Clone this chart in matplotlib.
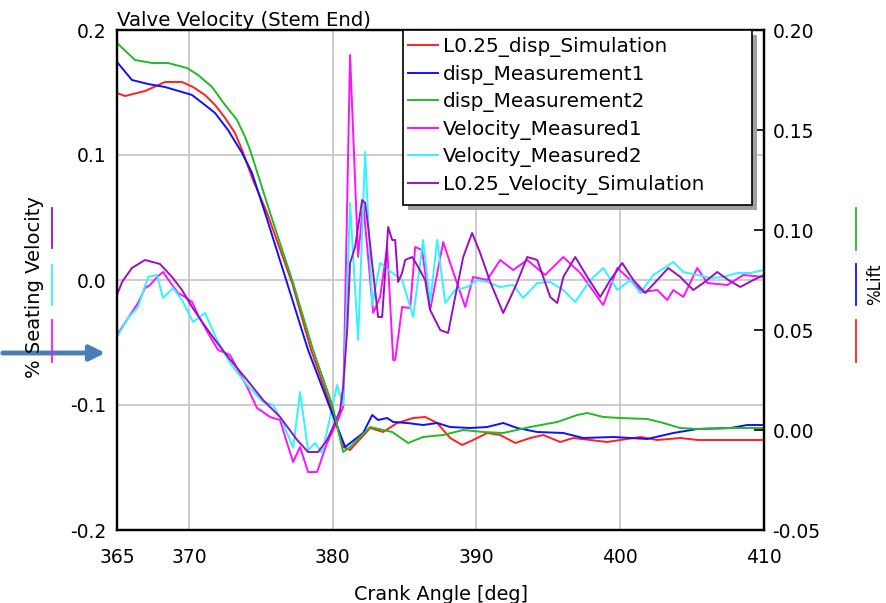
import matplotlib.pyplot as plt
from matplotlib.lines import Line2D
from matplotlib.patches import Rectangle

plt.rcParams['font.family'] = ['DejaVu Sans']

# ---- lift curves (right axis, %Lift) ----
disp_sim_x = [365, 365.56, 366.95, 368.34, 369.52, 370.29, 371.12, 371.82, 372.52, 373.21, 373.70,
              374.46, 375.44, 377.18, 378.50, 379.82, 380.73, 381.21, 382.61, 383.51, 384.49, 385.60,
              386.43, 387.27, 388.17, 389.01, 389.77, 390.75, 391.65, 392.70, 393.74, 394.65, 395.83,
              396.73, 397.92, 399.10, 400.00, 401.40, 402.58, 404.18, 405.36, 407.66, 410]
disp_sim = [0.1685, 0.167, 0.1695, 0.174, 0.174, 0.1715, 0.1675, 0.1625, 0.156, 0.1485, 0.14,
            0.125, 0.1085, 0.0735, 0.04, 0.013, -0.0085, -0.01, 0.001, -0.001, 0.0035, 0.006,
            0.0065, 0.0035, -0.004, -0.0075, -0.005, -0.0015, -0.0025, -0.0065, -0.004, -0.0025, -0.006,
            -0.004, -0.005, -0.006, -0.005, -0.0035, -0.005, -0.004, -0.005, -0.005, -0.005]

disp_m1_x = [365, 366.04, 367.16, 368.34, 369.52, 370.22, 371.12, 371.82, 372.72, 373.70, 374.39,
             375.30, 376.83, 378.29, 379.82, 380.87, 382.12, 382.75, 383.16, 383.79, 384.21, 385.18,
             386.29, 387.27, 388.17, 389.57, 390.75, 391.86, 392.84, 394.23, 396.04, 397.43, 399.52,
             401.88, 403.69, 405.36, 407.66, 408.84, 410]
disp_m1 = [0.184, 0.175, 0.173, 0.1715, 0.169, 0.1675, 0.1625, 0.1585, 0.15, 0.1385, 0.1285,
           0.1085, 0.0735, 0.04, 0.011, -0.0085, -0.0015, 0.0075, 0.005, 0.006, 0.004, 0.0035,
           0.0025, 0.0035, 0.0015, 0.001, 0.0015, 0.0035, 0.001, -0.001, -0.0015, -0.004, -0.0035,
           -0.0045, -0.0015, 0.0005, 0.001, 0.0025, 0.0025]

disp_m2_x = [365, 366.25, 367.44, 368.55, 369.87, 370.64, 371.61, 372.52, 373.35, 373.91, 374.26,
             375.65, 377.25, 378.64, 380.0, 380.73, 381.21, 382.61, 383.51, 384.14, 385.25, 386.29,
             387.69, 389.08, 390.47, 391.86, 393.74, 395.62, 397.01, 397.71, 398.82, 400.00, 401.88,
             403.0, 404.18, 405.36, 407.66, 410]
disp_m2 = [0.1935, 0.185, 0.1835, 0.1835, 0.181, 0.1775, 0.1715, 0.1625, 0.155, 0.1465, 0.14,
           0.1085, 0.0735, 0.04, 0.012, -0.011, -0.0085, 0.0015, 0.0, -0.001, -0.0065, -0.0035,
           -0.0025, 0.0, -0.001, -0.0015, 0.0015, 0.004, 0.0075, 0.0085, 0.0065, 0.006, 0.0055,
           0.0035, 0.001, 0.0005, 0.001, 0.001]

# ---- velocity curves (left axis, % Seating Velocity) ----
vel_m1_x = [365, 365.77, 366.46, 366.95, 367.30, 367.78, 368.20, 368.69, 369.24, 369.73, 370.22,
            370.64, 371.33, 372.03, 372.86, 374.05, 374.74, 375.65, 376.34, 376.83, 377.25, 377.73,
            378.29, 378.92, 379.61, 380.31, 380.73, 381.21, 381.77, 382.12, 382.82, 383.30, 383.79,
            384.21, 384.35, 384.83, 385.39, 385.74, 386.22, 386.78, 387.69, 388.17, 389.22, 389.77,
            390.75, 391.65, 392.56, 393.53, 394.78, 396.04, 397.22, 398.82, 399.80, 400.70, 401.53,
            402.58, 403.27, 403.69, 404.39, 405.36, 406.06, 407.45, 408.56, 410]
vel_m1 = [-0.044, -0.0304, -0.0184, -0.0064, -0.004, 0.0024, 0.0064, -0.0016, -0.0104, -0.0136, -0.0176,
          -0.028, -0.0424, -0.056, -0.06, -0.0856, -0.1024, -0.1096, -0.112, -0.1304, -0.1456, -0.1336,
          -0.1536, -0.1536, -0.1304, -0.1136, -0.1016, 0.18, 0.0184, 0.062, -0.0264, -0.0136, 0.0264,
          -0.064, -0.064, -0.0216, -0.0224, 0.0264, 0.024, -0.024, 0.0304, 0.0136, -0.0216, 0.0024,
          0.0, 0.016, 0.008, 0.016, 0.004, 0.0184, 0.0056, -0.02, 0.0096, 0.0, -0.0096,
          -0.008, -0.016, -0.008, -0.0136, 0.0096, -0.0024, -0.004, 0.004, 0.0024]

vel_m2_x = [365, 365.77, 366.46, 367.16, 367.78, 368.20, 368.90, 369.52, 370.29, 371.12, 371.96,
            372.86, 374.05, 375.16, 375.86, 376.55, 377.25, 377.73, 378.29, 378.78, 379.27, 379.82,
            380.31, 380.73, 381.21, 381.77, 382.26, 382.75, 383.30, 383.86, 384.83, 385.60, 386.29,
            386.78, 387.27, 387.83, 388.52, 389.36, 390.05, 390.75, 391.65, 392.56, 393.25, 394.23,
            395.13, 396.04, 396.87, 397.92, 398.82, 399.80, 400.70, 401.40, 402.30, 403.69, 404.39,
            405.36, 406.27, 407.17, 408.15, 409.05, 410]
vel_m2 = [-0.0456, -0.0304, -0.0216, 0.0024, 0.004, -0.0144, -0.0064, -0.016, -0.0336, -0.0264, -0.048,
          -0.0664, -0.084, -0.0976, -0.1, -0.1144, -0.1344, -0.0896, -0.136, -0.1304, -0.1384, -0.11,
          -0.084, -0.1, 0.0616, -0.048, 0.1024, -0.02, 0.0136, 0.008, 0.0, -0.0296, 0.032,
          -0.0184, 0.032, -0.0184, -0.008, -0.0056, 0.0, -0.0016, -0.0056, -0.004, -0.0144, -0.0024,
          -0.0016, -0.008, -0.0176, 0.0, 0.0096, -0.008, 0.0, -0.0104, 0.004, 0.0144, 0.0064,
          0.004, 0.0016, 0.0024, 0.0056, 0.0056, 0.008]

vel_sim_x = [365, 365.35, 366.04, 366.95, 367.99, 368.83, 369.52, 370.22, 370.92, 371.82, 372.72,
             374.05, 375.16, 376.34, 377.53, 378.29, 378.99, 379.61, 380.03, 380.52, 380.73, 381.01,
             381.21, 381.56, 382.05, 382.26, 382.47, 382.82, 383.16, 383.44, 383.65, 383.86, 384.14,
             384.35, 384.55, 384.83, 385.04, 385.53, 385.95, 386.43, 386.78, 387.48, 388.03, 388.52,
             389.08, 389.70, 390.26, 390.96, 391.86, 392.70, 393.53, 394.23, 395.13, 395.62, 396.04,
             396.87, 397.71, 398.61, 399.31, 400.14, 400.91, 401.74, 402.58, 403.34, 404.18, 405.08,
             405.78, 406.75, 407.52, 408.35, 409.26, 410]
vel_sim = [-0.012, -0.0016, 0.0096, 0.016, 0.0128, 0.0024, -0.008, -0.0216, -0.0336, -0.048, -0.0616,
           -0.08, -0.096, -0.1096, -0.128, -0.1376, -0.1376, -0.128, -0.1176, -0.104, -0.0856, -0.04,
           0.0136, 0.0264, 0.064, 0.0616, 0.0424, 0.0056, -0.0296, -0.0296, 0.0056, 0.0424, 0.032,
           0.032, -0.0016, 0.0056, 0.016, 0.0184, 0.0104, 0.0, -0.024, -0.04, -0.0424, -0.0136,
           0.0184, 0.0376, 0.0216, -0.0016, -0.0264, -0.0056, 0.0184, 0.016, -0.0136, -0.0184, 0.0024,
           0.0184, 0.0024, -0.0136, 0.0, 0.0136, 0.0, -0.0104, 0.0, 0.0096, 0.0024, -0.008,
           -0.0024, 0.0064, 0.0, -0.0056, 0.0, 0.004]

x_ticks = [365, 370, 380, 390, 400, 410]
left_ticks = [-0.2, -0.1, 0.0, 0.1, 0.2]
right_ticks = [-0.05, 0.0, 0.05, 0.10, 0.15, 0.20]

RED, BLUE, GREEN = '#ff2020', '#1010ff', '#22bb22'
MAGENTA, CYAN, PURPLE = '#ff10ff', '#30f4ff', '#9a10c0'

W, H = 886, 603
fig = plt.figure(figsize=(W / 100, H / 100), dpi=100)
ax = fig.add_axes([117 / W, 1 - 530 / H, 647 / W, 500 / H])
ax2 = ax.twinx()

l4, = ax.plot(vel_m1_x, vel_m1, color=MAGENTA, lw=1.4, label='Velocity_Measured1')
l5, = ax.plot(vel_m2_x, vel_m2, color=CYAN, lw=1.4, label='Velocity_Measured2')
l6, = ax.plot(vel_sim_x, vel_sim, color=PURPLE, lw=1.4, label='L0.25_Velocity_Simulation')

l1, = ax2.plot(disp_sim_x, disp_sim, color=RED, lw=1.4, label='L0.25_disp_Simulation')
l2, = ax2.plot(disp_m1_x, disp_m1, color=BLUE, lw=1.4, label='disp_Measurement1')
l3, = ax2.plot(disp_m2_x, disp_m2, color=GREEN, lw=1.4, label='disp_Measurement2')

ax.set_xlim(365, 410)
ax.set_ylim(-0.2, 0.2)
ax2.set_ylim(-0.05, 0.20)

ax.set_xticks(x_ticks)
ax.set_xticklabels([str(t) for t in x_ticks])
ax.set_yticks(left_ticks)
ax.set_yticklabels(['%.1f' % t for t in left_ticks])
ax2.set_yticks(right_ticks)
ax2.set_yticklabels(['%.2f' % t for t in right_ticks])

ax.grid(True, color='#c8c8c8', lw=1.3)
ax.set_axisbelow(True)
ax.tick_params(axis='y', length=0, labelsize=13.5, pad=8)
ax.tick_params(axis='x', length=0, labelsize=13.5, pad=13)
ax2.tick_params(axis='y', direction='in', length=7, width=1.2, labelsize=13.5, pad=6)
for a in (ax, ax2):
    for s in a.spines.values():
        s.set_color('black')
        s.set_linewidth(1.6)

ax.set_title('Valve Velocity (Stem End)', loc='left', fontsize=14.2, pad=1)
ax.set_xlabel('Crank Angle [deg]', fontsize=13.8, labelpad=13)
fig.text(35 / W, 1 - 287 / H, '% Seating Velocity', rotation=90, fontsize=14,
         ha='center', va='center')
fig.text(875 / W, 1 - 284 / H, '%Lift', rotation=90, fontsize=12,
         ha='center', va='center')

# colour keys next to the axis titles
for col, y0, y1 in [(PURPLE, 208, 248), (CYAN, 265, 305), (MAGENTA, 320, 362)]:
    fig.add_artist(Line2D([52 / W, 52 / W], [1 - y0 / H, 1 - y1 / H],
                          transform=fig.transFigure, color=col, lw=1.3))
for col, y0, y1 in [(GREEN, 208, 250), (BLUE, 264, 305), (RED, 320, 362)]:
    fig.add_artist(Line2D([856 / W, 856 / W], [1 - y0 / H, 1 - y1 / H],
                          transform=fig.transFigure, color=col, lw=1.3))

# blue arrow pointing at the axis
ax.annotate('', xy=(108, 250), xytext=(0, 250), xycoords='figure pixels',
            textcoords='figure pixels', annotation_clip=False,
            arrowprops=dict(arrowstyle='-|>,head_width=0.45,head_length=0.9',
                            color='#4a7ebb', lw=3.5))

# legend box (fixed width like the original tool) with drop shadow
bx0, by0, bx1, by1 = 403, 30, 752, 205
for dx, fc, ec in [(5, '#a0a0a0', 'none'), (0, 'white', 'black')]:
    r = Rectangle((bx0 + dx, H - by1 - dx), bx1 - bx0, by1 - by0, transform=None,
                  facecolor=fc, edgecolor=ec, lw=1.2, zorder=4, clip_on=False)
    ax2.add_artist(r)

leg = ax2.legend(handles=[l1, l2, l3, l4, l5, l6], loc='upper left',
                 bbox_to_anchor=((408 - 117) / 647, 1 - 7 / 500), borderaxespad=0,
                 fontsize=14.4, frameon=False, handlelength=1.5,
                 handletextpad=0.25, labelspacing=0.38, borderpad=0.0)
leg.set_zorder(5)

fig.savefig('out.png', dpi=100)
